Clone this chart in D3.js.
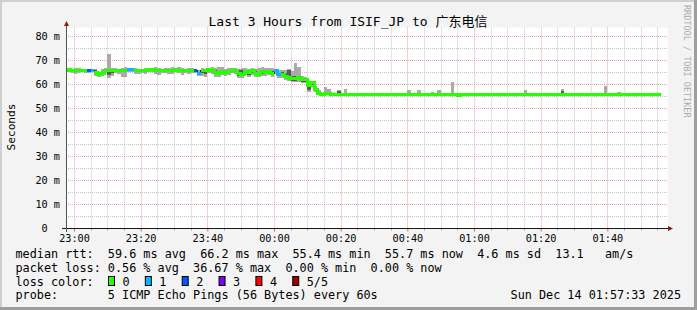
<!DOCTYPE html>
<html>
<head>
<meta charset="utf-8">
<script src="https://cdn.jsdelivr.net/npm/d3@7"></script>
<style>
html, body { margin: 0; padding: 0; background: #f3f3f3; }
svg { display: block; }
text { font-family: "DejaVu Sans Mono", "Noto Sans CJK SC", monospace; white-space: pre; }
</style>
</head>
<body>
<svg id="chart"></svg>
<script>
const width = 697;
const height = 310;

// one smokeping sample per minute, first one starts at 22:57
const sampleStart = new Date(2025, 11, 13, 22, 57, 0);

const median = [
  65.8, 65.9, 65.6, 65.4, 65.5, 65.7, 65.6, 65.4, 65.8, 64.6,
  64.0, 64.4, 65.6, 65.4, 65.8, 65.7, 65.6, 65.5, 65.7, 66.0,
  66.0, 65.6, 65.5, 65.7, 65.6, 65.9, 66.1, 65.6, 65.4, 65.7,
  65.8, 65.5, 65.6, 65.9, 65.7, 65.5, 65.8, 65.6, 65.7, 65.6,
  64.3, 65.8, 65.7, 65.9, 65.6, 64.8, 64.5, 65.0, 64.6, 65.3,
  65.8, 65.6, 64.2, 64.0, 65.2, 64.8, 65.4, 64.3, 64.1, 65.0,
  64.9, 65.2, 64.3, 65.5, 63.8, 64.0, 63.0, 62.7, 62.1, 62.2,
  62.6, 61.9, 61.7, 59.4, 60.4, 57.7, 56.2, 55.8, 56.0, 56.0,
  55.8, 55.8, 55.7, 55.7, 55.8, 55.7, 55.7, 55.6, 55.5, 55.7,
  55.7, 55.8, 55.8, 55.7, 55.7, 55.6, 55.7, 55.7, 55.7, 55.5,
  55.4, 55.7, 55.7, 55.8, 55.7, 55.7, 55.6, 55.7, 55.8, 55.7,
  55.7, 55.6, 55.7, 55.7, 55.7, 55.8, 55.8, 55.5, 55.3, 55.6,
  55.7, 55.7, 55.7, 55.6, 55.7, 55.7, 55.6, 55.4, 55.7, 55.8,
  55.7, 55.7, 55.8, 55.7, 55.6, 55.7, 55.7, 55.7, 55.7, 55.6,
  55.7, 55.7, 55.6, 55.7, 55.7, 55.8, 55.7, 55.7, 55.7, 55.8,
  55.7, 55.6, 55.7, 55.7, 55.7, 55.7, 55.6, 55.7, 55.7, 55.7,
  55.6, 55.5, 55.8, 55.7, 55.7, 55.6, 55.7, 55.7, 55.7, 55.6,
  55.7, 55.7, 55.8, 55.8, 55.7, 55.7, 55.7, 55.7, 55.7
];

// lost pings out of 5 for each sample
const loss = [
  0, 0, 0, 0, 0, 0, 0, 2, 1, 0,
  0, 0, 0, 0, 0, 0, 0, 0, 0, 1,
  1, 0, 0, 0, 0, 0, 0, 0, 0, 0,
  0, 0, 0, 0, 0, 0, 0, 0, 0, 2,
  1, 0, 0, 0, 0, 0, 0, 0, 0, 0,
  0, 0, 0, 0, 0, 0, 0, 0, 0, 0,
  0, 0, 0, 1, 1, 0, 0, 0, 0, 0,
  0, 0, 0, 0, 0, 0, 0, 0, 0, 0,
  0, 0, 0, 0, 0, 0, 0, 0, 0, 0,
  0, 0, 0, 0, 0, 0, 0, 0, 0, 0,
  0, 0, 0, 0, 0, 0, 0, 0, 0, 0,
  0, 0, 0, 0, 0, 0, 0, 0, 0, 0,
  0, 0, 0, 0, 0, 0, 0, 0, 0, 0,
  0, 0, 0, 0, 0, 0, 0, 0, 0, 0,
  0, 0, 0, 0, 0, 0, 0, 0, 0, 0,
  0, 0, 0, 0, 0, 0, 0, 0, 0, 0,
  0, 0, 0, 0, 0, 0, 0, 0, 0, 0,
  0, 0, 0, 0, 0, 0, 0, 0, 0
];

// smoke: lowest, 2nd, 4th and highest of the 5 pings (ms)
const pingLo = [
  64.8, 65.0, 64.6, 64.2, 64.5, 64.8, 64.7, 64.4, 64.9, 63.4,
  62.9, 63.2, 64.5, 62.6, 63.3, 64.7, 64.3, 63.0, 62.9, 65.1,
  65.0, 64.2, 64.3, 64.6, 64.3, 64.8, 65.0, 64.2, 63.9, 64.5,
  64.6, 64.1, 64.2, 64.8, 64.4, 63.8, 64.6, 64.3, 64.5, 64.4,
  63.2, 63.5, 62.8, 64.6, 64.2, 63.0, 62.8, 63.6, 63.1, 63.8,
  64.6, 64.1, 62.5, 62.4, 63.6, 62.9, 63.9, 62.8, 62.7, 63.4,
  63.3, 63.8, 62.8, 64.0, 62.5, 62.6, 61.6, 61.2, 60.6, 60.8,
  61.0, 60.4, 60.2, 56.8, 58.9, 56.6, 55.6, 55.4, 55.6, 55.6,
  55.6, 55.6, 55.5, 55.5, 55.6, 55.5, 55.5, 55.4, 55.3, 55.5,
  55.5, 55.6, 55.6, 55.5, 55.5, 55.4, 55.5, 55.5, 55.5, 55.3,
  55.2, 55.5, 55.5, 55.6, 55.5, 55.5, 55.4, 55.5, 55.6, 55.5,
  55.5, 55.4, 55.5, 55.5, 55.5, 55.6, 55.6, 55.3, 55.1, 55.4,
  55.5, 55.5, 55.5, 55.4, 55.5, 55.5, 55.4, 55.2, 55.5, 55.6,
  55.5, 55.5, 55.6, 55.5, 55.4, 55.5, 55.5, 55.5, 55.5, 55.4,
  55.5, 55.5, 55.4, 55.5, 55.5, 55.6, 55.5, 55.5, 55.5, 55.6,
  55.5, 55.4, 55.5, 55.5, 55.5, 55.5, 55.4, 55.5, 55.5, 55.5,
  55.4, 55.3, 55.6, 55.5, 55.5, 55.4, 55.5, 55.5, 55.5, 55.4,
  55.5, 55.5, 55.6, 55.6, 55.5, 55.5, 55.5, 55.5, 55.5
];
const pingQ1 = [
  65.4, 65.5, 65.1, 64.9, 65.1, 65.3, 65.2, 65.0, 65.4, 64.0,
  63.5, 63.9, 65.2, 63.9, 64.4, 65.3, 65.2, 65.1, 65.3, 65.6,
  65.6, 65.1, 65.0, 65.2, 65.0, 65.4, 65.6, 65.1, 64.9, 65.2,
  65.2, 64.9, 65.0, 65.4, 65.2, 64.9, 65.3, 65.0, 65.2, 65.1,
  63.8, 64.4, 64.3, 65.3, 65.0, 64.1, 63.9, 64.4, 64.0, 64.6,
  65.3, 65.0, 63.3, 63.2, 64.5, 63.9, 64.7, 63.6, 63.5, 64.3,
  64.2, 64.6, 63.7, 64.9, 63.2, 63.3, 62.3, 61.9, 61.3, 61.4,
  61.8, 61.0, 60.8, 57.3, 59.5, 57.2, 55.9, 55.6, 55.8, 55.8,
  55.7, 55.7, 55.6, 55.6, 55.7, 55.6, 55.6, 55.5, 55.4, 55.6,
  55.6, 55.7, 55.7, 55.6, 55.6, 55.5, 55.6, 55.6, 55.6, 55.4,
  55.3, 55.6, 55.6, 55.7, 55.6, 55.6, 55.5, 55.6, 55.7, 55.6,
  55.6, 55.5, 55.6, 55.6, 55.6, 55.7, 55.7, 55.4, 55.2, 55.5,
  55.6, 55.6, 55.6, 55.5, 55.6, 55.6, 55.5, 55.3, 55.6, 55.7,
  55.6, 55.6, 55.7, 55.6, 55.5, 55.6, 55.6, 55.6, 55.6, 55.5,
  55.6, 55.6, 55.5, 55.6, 55.6, 55.7, 55.6, 55.6, 55.6, 55.7,
  55.6, 55.5, 55.6, 55.6, 55.6, 55.6, 55.5, 55.6, 55.6, 55.6,
  55.5, 55.4, 55.7, 55.6, 55.6, 55.5, 55.6, 55.6, 55.6, 55.5,
  55.6, 55.6, 55.7, 55.7, 55.6, 55.6, 55.6, 55.6, 55.6
];
const pingQ3 = [
  66.0, 66.1, 65.9, 65.8, 65.9, 66.0, 65.9, 65.8, 66.1, 65.6,
  64.6, 65.0, 65.9, 66.3, 66.1, 66.0, 65.9, 65.8, 66.0, 66.2,
  66.2, 65.9, 65.8, 66.0, 66.0, 66.2, 66.3, 65.9, 65.8, 66.0,
  66.1, 65.9, 66.2, 66.3, 66.1, 66.0, 66.1, 65.9, 66.0, 65.9,
  65.0, 66.1, 66.0, 66.2, 66.0, 65.6, 65.5, 65.7, 65.4, 65.8,
  66.1, 66.0, 65.8, 65.7, 66.0, 65.7, 66.0, 65.2, 65.0, 65.6,
  65.5, 65.8, 65.2, 65.9, 64.6, 64.8, 64.5, 65.8, 63.4, 63.4,
  63.4, 62.6, 62.3, 60.8, 60.8, 58.2, 56.7, 56.0, 56.3, 56.2,
  55.9, 55.9, 57.2, 55.8, 55.9, 55.8, 55.8, 55.7, 55.6, 55.8,
  55.8, 55.9, 55.9, 55.8, 55.8, 55.7, 55.8, 55.8, 55.8, 55.6,
  55.5, 55.8, 55.8, 55.9, 55.8, 55.8, 55.7, 55.8, 55.9, 55.8,
  55.8, 55.7, 55.8, 55.8, 55.8, 55.9, 55.9, 55.6, 55.4, 55.7,
  55.8, 55.8, 55.8, 55.7, 55.8, 55.8, 55.7, 55.5, 55.8, 55.9,
  55.8, 55.8, 55.9, 55.8, 55.7, 55.8, 55.8, 55.8, 55.8, 55.7,
  55.8, 55.8, 55.7, 55.8, 55.8, 55.9, 55.8, 55.8, 55.8, 56.9,
  55.8, 55.7, 55.8, 55.8, 55.8, 55.8, 55.7, 55.8, 55.8, 55.8,
  55.7, 55.6, 55.9, 55.8, 55.8, 55.7, 55.8, 55.8, 55.8, 55.7,
  55.8, 55.8, 55.9, 55.9, 55.8, 55.8, 55.8, 55.8, 55.8
];
const pingHi = [
  66.3, 66.4, 66.2, 66.5, 66.6, 66.4, 66.3, 66.2, 66.4, 66.3,
  65.1, 66.3, 66.5, 72.5, 66.6, 66.8, 66.3, 66.6, 66.9, 66.4,
  66.5, 66.7, 66.4, 66.3, 66.8, 66.6, 66.5, 66.9, 66.7, 66.4,
  66.5, 66.8, 67.0, 66.6, 66.9, 66.7, 66.4, 66.8, 66.6, 66.3,
  65.6, 66.7, 66.4, 66.6, 67.0, 66.5, 67.2, 66.9, 66.3, 66.7,
  66.6, 66.5, 66.4, 66.7, 66.8, 66.3, 66.6, 66.2, 66.5, 66.9,
  66.7, 66.6, 66.5, 66.4, 65.9, 66.0, 65.6, 66.3, 65.2, 68.7,
  66.9, 63.5, 62.8, 61.2, 61.0, 59.2, 57.5, 56.3, 58.8, 57.9,
  56.1, 56.0, 57.5, 56.1, 57.9, 56.0, 55.9, 55.9, 55.8, 55.9,
  55.9, 56.0, 56.0, 55.9, 55.9, 55.8, 55.9, 55.9, 55.9, 55.7,
  55.6, 55.9, 55.9, 57.5, 55.9, 55.9, 57.5, 55.9, 56.0, 55.9,
  56.7, 55.8, 57.5, 55.9, 55.9, 56.0, 60.8, 56.2, 55.5, 55.8,
  56.0, 55.9, 55.9, 55.8, 55.9, 55.9, 55.8, 55.6, 55.9, 56.0,
  55.9, 55.9, 56.0, 55.9, 55.8, 55.9, 55.9, 55.9, 57.5, 55.8,
  55.9, 55.9, 55.8, 55.9, 55.9, 56.0, 55.9, 55.9, 55.9, 57.8,
  56.0, 55.8, 55.9, 55.9, 55.9, 55.9, 55.8, 55.9, 55.9, 55.9,
  55.8, 55.7, 59.3, 55.9, 55.9, 55.8, 56.7, 55.9, 55.9, 55.8,
  55.9, 56.0, 56.0, 56.0, 55.9, 55.9, 55.9, 55.9, 55.9
];

const yTicks = [0, 10, 20, 30, 40, 50, 60, 70, 80];
const lossLabels = ["0", "1", "2", "3", "4", "5/5"];
const lossColors = ["#26ff00", "#00b8ff", "#0059ff", "#7e00ff", "#ff0000", "#a10000"];
const legendLines = [
  "median rtt:  59.6 ms avg  66.2 ms max  55.4 ms min  55.7 ms now  4.6 ms sd  13.1   am/s",
  "packet loss: 0.56 % avg  36.67 % max  0.00 % min  0.00 % now",
  "loss color:",
  "probe:       5 ICMP Echo Pings (56 Bytes) every 60s"
];
const title = "Last 3 Hours from ISIF_JP to 广东电信";
const stamp = "Sun Dec 14 01:57:33 2025";

const svg = d3.select("#chart")
    .attr("width", width)
    .attr("height", height);

// background + rrdtool style shading
svg.append("rect").attr("width", width).attr("height", height).attr("fill", "#f3f3f3");
svg.append("rect").attr("width", width).attr("height", 2).attr("fill", "#cfcfcf");
svg.append("rect").attr("width", 2).attr("height", height).attr("fill", "#cfcfcf");
svg.append("rect").attr("y", height - 3).attr("width", width).attr("height", 3).attr("fill", "#9e9e9e");
svg.append("rect").attr("x", width - 3).attr("width", 3).attr("height", height).attr("fill", "#9e9e9e");

const pLeft = 66, pRight = 668, pTop = 27.5, pBottom = 228;

const x = d3.scaleTime()
    .domain([new Date(2025, 11, 13, 22, 57, 36), new Date(2025, 11, 14, 1, 57, 36)])
    .range([66, 666]);
const y = d3.scaleLinear()
    .domain([0, 83.5])
    .range([pBottom, pTop]);

svg.append("rect")
    .attr("x", pLeft).attr("y", pTop)
    .attr("width", pRight - pLeft).attr("height", pBottom - pTop)
    .attr("fill", "#ffffff");

svg.append("clipPath").attr("id", "plot")
  .append("rect")
    .attr("x", pLeft + 1).attr("y", pTop)
    .attr("width", pRight - pLeft - 1).attr("height", pBottom - pTop);

// grid
const majorT = x.ticks(d3.timeMinute.every(20));
const minorT = x.ticks(d3.timeMinute.every(5)).filter(t => t.getMinutes() % 20 !== 0);
const minorV = d3.range(5, 85, 10);
const grid = svg.append("g").attr("fill", "none").attr("stroke-dasharray", "1,1");

grid.selectAll("line.vmin").data(minorT).join("line")
    .attr("x1", d => Math.round(x(d)) + 0.5).attr("x2", d => Math.round(x(d)) + 0.5)
    .attr("y1", pTop).attr("y2", pBottom)
    .attr("stroke", "#c4c4c4");
grid.selectAll("line.hmin").data(minorV).join("line")
    .attr("y1", d => Math.round(y(d)) + 0.5).attr("y2", d => Math.round(y(d)) + 0.5)
    .attr("x1", pLeft).attr("x2", pRight)
    .attr("stroke", "#c4c4c4");
grid.selectAll("line.vmaj").data(majorT).join("line")
    .attr("x1", d => Math.round(x(d)) + 0.5).attr("x2", d => Math.round(x(d)) + 0.5)
    .attr("y1", pTop).attr("y2", pBottom)
    .attr("stroke", "#efa0a0");
grid.selectAll("line.hmaj").data(yTicks.filter(v => v > 0)).join("line")
    .attr("y1", d => Math.round(y(d)) + 0.5).attr("y2", d => Math.round(y(d)) + 0.5)
    .attr("x1", pLeft).attr("x2", pRight)
    .attr("stroke", "#efa0a0");

// samples
const samples = median.map((m, i) => ({
    t0: d3.timeMinute.offset(sampleStart, i),
    t1: d3.timeMinute.offset(sampleStart, i + 1),
    m: m, loss: loss[i],
    lo: pingLo[i], q1: pingQ1[i], q3: pingQ3[i], hi: pingHi[i]
}));

const plot = svg.append("g").attr("clip-path", "url(#plot)").attr("shape-rendering", "crispEdges");

plot.selectAll("rect.smokeOut").data(samples).join("rect")
    .attr("x", d => x(d.t0))
    .attr("width", d => x(d.t1) - x(d.t0))
    .attr("y", d => y(d.hi))
    .attr("height", d => y(d.lo) - y(d.hi))
    .attr("fill", "#aaaaaa");
plot.selectAll("rect.smokeIn").data(samples).join("rect")
    .attr("x", d => x(d.t0))
    .attr("width", d => x(d.t1) - x(d.t0))
    .attr("y", d => y(d.q3))
    .attr("height", d => y(d.q1) - y(d.q3))
    .attr("fill", "#5a5a5a");

const pts = samples.flatMap(d => [
    { px: x(d.t0), py: y(d.m), c: d.loss },
    { px: x(d.t1), py: y(d.m), c: d.loss }
]);

plot.append("path")
    .attr("d", d3.line().x(d => d.px).y(d => d.py)(pts))
    .attr("fill", "none")
    .attr("stroke", "#202020")
    .attr("stroke-width", 1);

lossColors.forEach((col, c) => {
    plot.append("path")
        .attr("d", d3.line().defined(d => d.c === c).x(d => d.px).y(d => d.py)(pts))
        .attr("fill", "none")
        .attr("stroke", col)
        .attr("stroke-width", 3);
});

// axes
const xAxis = svg.append("g")
    .attr("transform", `translate(0,${pBottom + 0.5})`)
    .call(d3.axisBottom(x).ticks(d3.timeMinute.every(20)).tickFormat(d3.timeFormat("%H:%M")).tickSize(3));
xAxis.select(".domain").remove();
xAxis.selectAll(".tick line").attr("stroke", "#e06060");
xAxis.selectAll(".tick text").attr("font-size", 10.2).attr("fill", "#000");

const yAxis = svg.append("g")
    .attr("transform", `translate(${pLeft + 0.5},0)`)
    .call(d3.axisLeft(y).tickValues(yTicks).tickSize(0).tickPadding(6.5)
        .tickFormat(d => d === 0 ? "0  " : `${d} m`));
yAxis.select(".domain").remove();
yAxis.selectAll(".tick text").attr("font-size", 10.2).attr("fill", "#000");

svg.append("g").selectAll("line").data(minorT).join("line")
    .attr("x1", d => Math.round(x(d)) + 0.5).attr("x2", d => Math.round(x(d)) + 0.5)
    .attr("y1", pBottom).attr("y2", pBottom + 2.5)
    .attr("stroke", "#aaaaaa");

svg.append("line")
    .attr("x1", pLeft - 4).attr("x2", pRight + 1)
    .attr("y1", pBottom + 0.5).attr("y2", pBottom + 0.5)
    .attr("stroke", "#1a1a1a");
svg.append("line")
    .attr("x1", pLeft + 0.5).attr("x2", pLeft + 0.5)
    .attr("y1", pBottom + 4).attr("y2", 24)
    .attr("stroke", "#555555");
svg.append("path")
    .attr("d", `M${pLeft - 2},26 L${pLeft + 3},26 L${pLeft + 0.5},21 Z`)
    .attr("fill", "#8b1a1a");
svg.append("path")
    .attr("d", `M${pRight},${pBottom - 2} L${pRight},${pBottom + 3} L${pRight + 5},${pBottom + 0.5} Z`)
    .attr("fill", "#8b1a1a");

// texts
svg.append("text")
    .attr("x", 348).attr("y", 26)
    .attr("text-anchor", "middle")
    .attr("font-size", 13)
    .text(title);

svg.append("text")
    .attr("transform", "translate(15,127) rotate(-90)")
    .attr("text-anchor", "middle")
    .attr("font-size", 11.2)
    .text("Seconds");

svg.append("text")
    .attr("transform", "translate(683.5,5) rotate(90)")
    .attr("font-size", 8.5)
    .attr("fill", "#ababab")
    .text("RRDTOOL / TOBI OETIKER");

const rowY = [258, 271.7, 285.5, 299.2];
svg.append("g").selectAll("text").data(legendLines).join("text")
    .attr("x", 15.5)
    .attr("y", (d, i) => rowY[i])
    .attr("font-size", 11.8)
    .text(d => d);

const lossKey = svg.append("g").selectAll("g").data(lossLabels).join("g")
    .attr("transform", (d, i) => `translate(${108.5 + i * 36.85},276.5)`);
lossKey.append("rect")
    .attr("width", 6).attr("height", 9)
    .attr("fill", (d, i) => lossColors[i])
    .attr("stroke", "#000");
lossKey.append("text")
    .attr("x", 14).attr("y", 9)
    .attr("font-size", 11.8)
    .text(d => d);

svg.append("text")
    .attr("x", 681).attr("y", rowY[3])
    .attr("text-anchor", "end")
    .attr("font-size", 11.8)
    .text(stamp);
</script>
</body>
</html>
